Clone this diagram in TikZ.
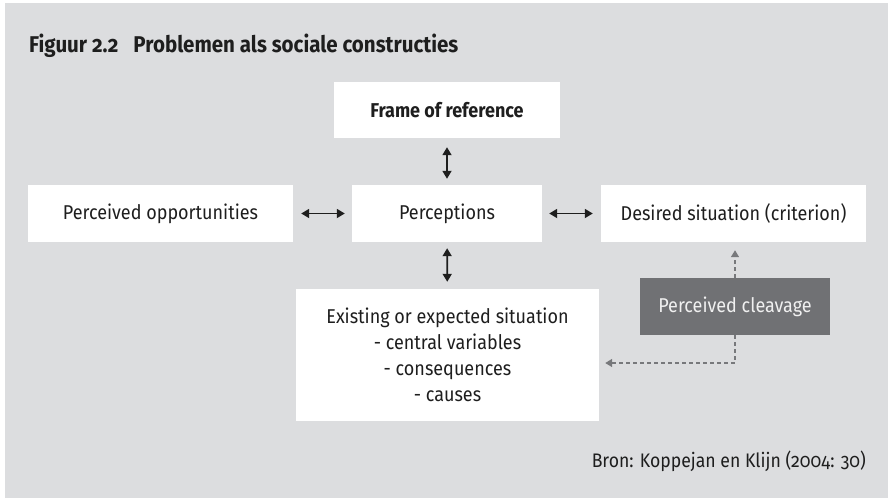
\documentclass[tikz,border=0pt]{standalone}
\usepackage{fontspec}
\setmainfont{Fira Sans}[Numbers=OldStyle, FakeStretch=0.9]
\usetikzlibrary{arrows.meta,calc}
\definecolor{panel}{HTML}{DCDDDF}
\definecolor{darkbox}{HTML}{707174}
\definecolor{dashgray}{HTML}{77787B}
\definecolor{txt}{HTML}{1E1E1E}
\tikzset{
  wbox/.style={rectangle, fill=white, inner sep=0pt, text=txt, font=\fontsize{20}{22}\selectfont, align=center},
  biarrow/.style={line width=1.7pt, draw=txt, {Triangle[length=8pt,width=9pt]}-{Triangle[length=8pt,width=9pt]}},
  dasharrow/.style={line width=1.5pt, draw=dashgray, dash pattern=on 4pt off 3pt, -{Triangle[length=7pt,width=8pt]}},
}
\begin{document}
\begin{tikzpicture}[x=1pt,y=-1pt]
\useasboundingbox (0,0) rectangle (888,498);
\fill[panel] (5,3) rectangle (888,498);
\node[anchor=base west, inner sep=0pt, text=txt, font=\bfseries\fontsize{22.8}{26}\selectfont] (title) at (29,52) {Figuur 2.2\hspace{0.45em} Problemen als sociale constructies};

\node[wbox, minimum width=226pt, minimum height=56pt, font=\bfseries\fontsize{20}{22}\selectfont] (frame) at (447,110) {Frame of reference};
\node[wbox, minimum width=190pt, minimum height=57pt] (percep) at (447,213.5) {Perceptions};
\node[wbox, minimum width=265pt, minimum height=57pt] (opp) at (160.5,213.5) {Perceived opportunities};
\node[wbox, minimum width=265pt, minimum height=57pt] (des) at (733.5,213.5) {Desired situation (criterion)};
\node[wbox, minimum width=303pt, minimum height=132pt, font=\fontsize{20}{26}\selectfont] (exist) at (447.5,355) {Existing or expected situation\\- central variables\\- consequences\\- causes};
\node[wbox, fill=darkbox, text=white!94!black, minimum width=190pt, minimum height=57pt] (cleav) at (735,306.5) {Perceived cleavage};

\draw[biarrow, shorten <=9pt, shorten >=6pt] (frame) -- (percep);
\draw[biarrow, shorten <=6pt, shorten >=7pt] (percep) -- (exist);
\draw[biarrow, shorten <=8pt, shorten >=7pt] (opp) -- (percep);
\draw[biarrow, shorten <=7pt, shorten >=8pt] (percep) -- (des);

\draw[dasharrow, shorten >=8pt] (cleav.north) -- (cleav.north |- des.south);
\path (exist.east) ++(0,8) coordinate (ce);
\draw[dasharrow, shorten >=6pt] (cleav.south) |- (ce);

\node[anchor=base east, inner sep=0pt, text=txt, font=\fontsize{19.6}{22}\selectfont] (bron) at (866,467) {Bron: Koppejan en Klijn (2004: 30)};
\end{tikzpicture}
\end{document}
